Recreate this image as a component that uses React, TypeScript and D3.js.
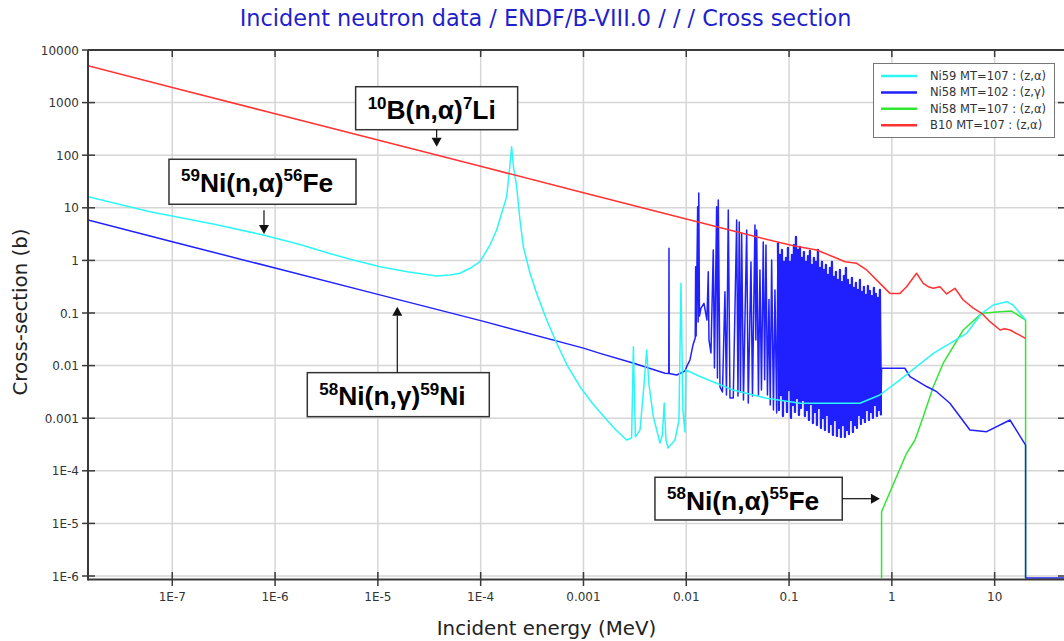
import React from "react";
import * as d3 from "d3";

type Pt = [number, number];

// ---- Data (energy in MeV, cross-section in barns) ----
const b10Alpha: Pt[] = [
  [1.514e-8, 5000], [1e-7, 1940], [1e-6, 614], [1e-5, 194], [1e-4, 61.4], [1e-3, 19.4],
  [0.01, 6.14], [0.05, 2.75], [0.11, 1.9], [0.1856, 1.58], [0.269, 1.17], [0.35, 0.945],
  [0.455, 0.881], [0.569, 0.657], [0.766, 0.366], [0.958, 0.236], [1.2, 0.236], [1.39, 0.316],
  [1.74, 0.569], [2.02, 0.367], [2.26, 0.316], [2.53, 0.295], [2.94, 0.316], [3.41, 0.23],
  [4.11, 0.295], [4.95, 0.177], [6.19, 0.124], [7.48, 0.0986], [9.0, 0.0684], [11.3, 0.0475],
  [12.5, 0.05], [14.1, 0.0475], [20, 0.033],
];

const ni59Alpha: Pt[] = [
  [1.514e-8, 16.3], [6.07e-8, 8.43], [2.5e-7, 4.9], [7.67e-7, 3.05], [1.746e-6, 2.0], [3.2e-6, 1.4],
  [5.4e-6, 1.05], [1.05e-5, 0.76], [2e-5, 0.6], [3.73e-5, 0.505], [5.03e-5, 0.53], [6.29e-5, 0.569],
  [7.87e-5, 0.708], [9.84e-5, 0.944], [1.23e-4, 1.96], [1.43e-4, 3.78], [1.6e-4, 7.85],
  [1.79e-4, 16.3], [1.906e-4, 52.3], [2.0e-4, 145], [2.084e-4, 60.4], [2.24e-4, 25.2],
  [2.41e-4, 5.86], [2.6e-4, 1.82], [3.02e-4, 0.569], [3.5e-4, 0.237], [4.39e-4, 0.0736],
  [5.49e-4, 0.0266], [7.06e-4, 0.00953], [9.25e-4, 0.00397], [1.237e-3, 0.00186],
  [1.69e-3, 0.000925], [2.07e-3, 0.000597], [2.63e-3, 0.000385], [2.94e-3, 0.00042], [3.06e-3, 0.0229],
  [3.2e-3, 0.00044], [3.55e-3, 0.0006], [3.88e-3, 0.00428], [4.12e-3, 0.0198],
  [4.34e-3, 0.00428], [4.78e-3, 0.00107], [5.55e-3, 0.000337], [5.86e-3, 0.00048],
  [6.1e-3, 0.00195], [6.35e-3, 0.000385], [6.64e-3, 0.000271], [7.76e-3, 0.000385],
  [8.49e-3, 0.000925], [8.88e-3, 0.367], [9.28e-3, 0.00143], [9.71e-3, 0.000547],
  [9.93e-3, 0.00824], [0.0136, 0.0062], [0.0285, 0.00344], [0.0605, 0.00239],
  [0.1277, 0.00192], [0.489, 0.00192], [0.764, 0.00276], [1.19, 0.0053], [2.53, 0.0171],
  [5.35, 0.0411], [7.48, 0.0986], [9.69, 0.142], [13.1, 0.164], [15.1, 0.142], [20, 0.0736],
];

const ni58GammaLow: Pt[] = [
  [1.514e-8, 5.85], [1e-7, 2.26], [1e-6, 0.716], [1e-5, 0.226], [1e-4, 0.0716],
  [1e-3, 0.0215], [1.45e-3, 0.0171], [3.03e-3, 0.0112], [6.21e-3, 0.00714],
  [6.76e-3, 0.0071], [6.79e-3, 1.7], [6.82e-3, 0.0071], [8.07e-3, 0.00663],
  [9.71e-3, 0.0079], [0.01009, 0.00953], [0.01086, 0.0128], [0.01162, 0.0246],
  [0.01222, 0.0335], [0.01234, 0.759], [0.01247, 0.0365], [0.01291, 10.5],
  [0.01305, 0.0675], [0.01323, 19.1], [0.01344, 0.0877], [0.0139, 0.124],
  [0.01486, 0.153], [0.01589, 0.0736], [0.01637, 0.61], [0.01663, 0.0307],
  [0.01739, 0.0174], [0.01831, 1.58], [0.0188, 0.009], [0.01975, 10.5],
  [0.02011, 0.0058], [0.02048, 14.1], [0.02128, 0.00392], [0.0225, 0.00315],
  [0.02378, 0.254], [0.0246, 0.00276], [0.02563, 9.08], [0.02663, 0.00242],
];

const ni58GammaMid: Pt[] = [
  [0.02865, 0.00242], [0.03093, 5.86], [0.03184, 0.00264], [0.03278, 5.37], [0.03367, 0.00315],
  [0.03459, 3.32], [0.03601, 0.00222], [0.0387, 3.78], [0.0401, 0.00195], [0.04259, 0.932],
  [0.04405, 0.00264], [0.04658, 4.71], [0.04753, 0.0307], [0.04839, 3.78], [0.05038, 0.00276],
  [0.0521, 0.657], [0.05388, 0.00344], [0.0561, 2.24], [0.05788, 0.00537], [0.0596, 1.96],
  [0.06164, 0.00276], [0.06374, 0.18], [0.06562, 0.00178], [0.06771, 1.02], [0.07049, 0.00143],
  [0.0729, 0.274], [0.07573, 0.00126],
];

const ni58GammaDense: Pt[] = [
  [0.078, 2.14], [0.0797, 0.00143], [0.0816, 1.27], [0.0834, 0.00276], [0.0853, 1.58],
  [0.0872, 0.0011], [0.0892, 0.932], [0.0912, 0.00222], [0.0933, 1.11], [0.0954, 0.00131],
  [0.0975, 1.72], [0.0997, 0.00344], [0.102, 0.932], [0.1043, 0.00101], [0.1067, 1.27],
  [0.1091, 0.00178], [0.1116, 1.96], [0.1141, 0.00131], [0.1167, 2.79], [0.1193, 0.00242],
  [0.122, 1.58], [0.1248, 0.00115], [0.1276, 1.8], [0.1305, 0.00156], [0.1335, 1.11],
  [0.1365, 0.00222], [0.1396, 1.44], [0.1427, 0.0011], [0.146, 0.932], [0.1493, 0.00143],
  [0.1527, 1.21], [0.1561, 0.000925], [0.1596, 1.51], [0.1633, 0.00186], [0.167, 0.818],
  [0.1707, 0.000811], [0.1746, 1.11], [0.1786, 0.00131], [0.1826, 0.932], [0.1867, 0.000743],
  [0.191, 1.58], [0.1953, 0.00156], [0.1997, 0.717], [0.2042, 0.000652], [0.2089, 0.932],
  [0.2136, 0.00101], [0.2184, 0.657], [0.2234, 0.000597], [0.2284, 0.818], [0.2336, 0.00115],
  [0.2389, 0.528], [0.2443, 0.000547], [0.2498, 0.717], [0.2555, 0.000776], [0.2613, 0.932],
  [0.2672, 0.00048], [0.2732, 0.484], [0.2794, 0.000925], [0.2857, 0.602], [0.2922, 0.000459],
  [0.2988, 0.424], [0.3056, 0.000652], [0.3125, 0.657], [0.3196, 0.00044], [0.3268, 0.388],
  [0.3342, 0.000743], [0.3418, 0.505], [0.3495, 0.00044], [0.3574, 0.717], [0.3655, 0.000597],
  [0.3738, 0.424], [0.3823, 0.000501], [0.3909, 0.34], [0.3998, 0.000925], [0.4088, 0.463],
  [0.4181, 0.000547], [0.4276, 0.299], [0.4372, 0.000743], [0.4471, 0.372], [0.4573, 0.000652],
  [0.4676, 0.274], [0.4782, 0.00115], [0.489, 0.424], [0.5001, 0.000776], [0.5114, 0.251],
  [0.523, 0.00101], [0.5348, 0.312], [0.5469, 0.000847], [0.5593, 0.22], [0.572, 0.00143],
  [0.5849, 0.326], [0.5982, 0.000925], [0.6117, 0.262], [0.6256, 0.00131], [0.6397, 0.21],
  [0.6542, 0.00101], [0.669, 0.299], [0.6842, 0.00178], [0.6997, 0.23], [0.7155, 0.0011],
  [0.7317, 0.193], [0.7483, 0.00143], [0.7652, 0.274], [0.7825, 0.00115],
];

const ni58GammaHigh: Pt[] = [
  [0.794, 0.0089], [1.34, 0.0089], [1.5, 0.0062], [2.18, 0.004], [2.73, 0.00319],
  [3.67, 0.00192], [5.75, 0.000597], [8.36, 0.000554], [14.1, 0.000925], [20, 0.000309],
  [20, 0], [200, 0],
];

const ni58Alpha: Pt[] = [
  [0.794, 0], [0.794, 1.67e-5], [1.39, 2.15e-4], [1.68, 3.85e-4], [2.02, 0.00107],
  [2.53, 0.00397], [3.16, 0.0111], [4.95, 0.0475], [7.48, 0.0986], [11.3, 0.106],
  [14.6, 0.109], [20, 0.0736], [20, 0],
];

const xTickValues = [1e-7, 1e-6, 1e-5, 1e-4, 1e-3, 1e-2, 1e-1, 1, 10];
const xTickLabels = ["1E-7", "1E-6", "1E-5", "1E-4", "0.001", "0.01", "0.1", "1", "10"];
const yTickValues = [1e-6, 1e-5, 1e-4, 1e-3, 1e-2, 1e-1, 1, 10, 100, 1000, 10000];
const yTickLabels = ["1E-6", "1E-5", "1E-4", "0.001", "0.01", "0.1", "1", "10", "100", "1000", "10000"];

const legendLabels = [
  "Ni59 MT=107 : (z,\u03b1)",
  "Ni58 MT=102 : (z,\u03b3)",
  "Ni58 MT=107 : (z,\u03b1)",
  "B10 MT=107 : (z,\u03b1)",
];
const COLORS = { cyan: "#2cf6f6", blue: "#2020ff", green: "#33e633", red: "#ff3333" };
const legendColors = [COLORS.cyan, COLORS.blue, COLORS.green, COLORS.red];

type Part = [string, boolean];
const annotations: { parts: Part[]; target: Pt; box: number[]; dir: string; gap: number }[] = [
  { parts: [["10", true], ["B(n,\u03b1)", false], ["7", true], ["Li", false]], target: [3.73e-5, 145], box: [-81, -60, 162, 43], dir: "down", gap: 0 },
  { parts: [["59", true], ["Ni(n,\u03b1)", false], ["56", true], ["Fe", false]], target: [7.8e-7, 3.18], box: [-95, -74.7, 187, 45], dir: "down", gap: 6 },
  { parts: [["58", true], ["Ni(n,\u03b3)", false], ["59", true], ["Ni", false]], target: [1.545e-5, 0.132], box: [-90, 66, 182, 44], dir: "up", gap: 0 },
  { parts: [["58", true], ["Ni(n,\u03b1)", false], ["55", true], ["Fe", false]], target: [0.766, 2.95e-5], box: [-225, -21.4, 187.3, 42.7], dir: "right", gap: 0 },
];

const X0 = 88, X1 = 1061, Y0 = 50, Y1 = 579;
const FONT = "'DejaVu Sans', Verdana, sans-serif";

export default function App() {
  const x = d3.scaleLog().domain([1.514e-8, 44.2]).range([X0, X1]);
  const y = d3.scaleLog().domain([8.77e-7, 1e4]).range([Y1, Y0]);
  const yv = (v: number) => (v > 0 ? y(v) : Y1 - 1);
  const line = d3.line<Pt>().x((d) => x(d[0])).y((d) => yv(d[1]));
  const ni58Gamma = [...ni58GammaLow, ...ni58GammaMid, ...ni58GammaDense, ...ni58GammaHigh];

  const series = [
    { data: ni58Alpha, color: COLORS.green, w: 1.5 },
    { data: ni58Gamma, color: COLORS.blue, w: 1.5 },
    { data: ni58GammaDense, color: COLORS.blue, w: 2.3 },
    { data: ni59Alpha, color: COLORS.cyan, w: 1.5 },
    { data: b10Alpha, color: COLORS.red, w: 1.5 },
  ];

  return (
    <svg width={1064} height={641} style={{ position: "absolute", left: 0, top: 0, background: "#fff" }}>
      <defs>
        <clipPath id="plotclip">
          <rect x={X0} y={Y0} width={1064 - X0} height={Y1 - Y0} />
        </clipPath>
      </defs>
      <rect x={0} y={0} width={1064} height={641} fill="#fff" />
      {/* title */}
      <text x={545.5} y={26} textAnchor="middle" fontFamily={FONT} fontSize={22.4} fill="#1f1fcc">
        Incident neutron data / ENDF/B-VIII.0 / / / Cross section
      </text>
      {/* grid */}
      <g stroke="#d6d6d6" strokeWidth={1.5}>
        {yTickValues.map((v, i) => (
          <line key={"gy" + i} x1={X0} x2={1061} y1={y(v)} y2={y(v)} />
        ))}
        {xTickValues.map((v, i) => (
          <line key={"gx" + i} x1={x(v)} x2={x(v)} y1={Y0} y2={Y1} />
        ))}
      </g>
      {/* series */}
      <g clipPath="url(#plotclip)" fill="none" strokeLinejoin="round">
        {series.map((s, i) => (
          <path key={i} d={line(s.data) || ""} stroke={s.color} strokeWidth={s.w} />
        ))}
      </g>
      {/* axes */}
      <g stroke="#3a3a3a" strokeWidth={2}>
        <line x1={X0} x2={1064} y1={Y1 + 0.5} y2={Y1 + 0.5} />
        <line x1={X0} x2={1064} y1={Y0} y2={Y0} />
        <line x1={X0} x2={X0} y1={Y0} y2={Y1 + 1.5} />
      </g>
      <g stroke="#3a3a3a" strokeWidth={1.5}>
        {yTickValues.map((v, i) => (
          <line key={"ty" + i} x1={82} x2={95} y1={y(v)} y2={y(v)} />
        ))}
        {yTickValues.map((v, i) => (
          <line key={"tyr" + i} x1={1058} x2={1064} y1={y(v)} y2={y(v)} />
        ))}
        {xTickValues.map((v, i) => (
          <line key={"tx" + i} x1={x(v)} x2={x(v)} y1={572} y2={586} />
        ))}
        {xTickValues.map((v, i) => (
          <line key={"txt" + i} x1={x(v)} x2={x(v)} y1={Y0} y2={Y0 + 7} />
        ))}
      </g>
      <g fontFamily={FONT} fontSize={12} fill="#333">
        {yTickValues.map((v, i) => (
          <text key={"ly" + i} x={79} y={y(v) + 4.5} textAnchor="end">
            {yTickLabels[i]}
          </text>
        ))}
        {xTickValues.map((v, i) => (
          <text key={"lx" + i} x={x(v)} y={600.5} textAnchor="middle">
            {xTickLabels[i]}
          </text>
        ))}
      </g>
      <text x={546.5} y={635} textAnchor="middle" fontFamily={FONT} fontSize={19.8} fill="#222">
        Incident energy (MeV)
      </text>
      <text
        transform={`translate(26.5, 312) rotate(-90)`}
        textAnchor="middle"
        fontFamily={FONT}
        fontSize={19.8}
        fill="#222"
      >
        Cross-section (b)
      </text>
      {/* legend */}
      <g>
        <rect x={873.5} y={63.5} width={181} height={74} fill="#fff" stroke="#777" strokeWidth={1} />
        {legendLabels.map((l, i) => (
          <g key={"lg" + i}>
            <line x1={881} x2={917} y1={76 + i * 16.4} y2={76 + i * 16.4} stroke={legendColors[i]} strokeWidth={2.5} />
            <text x={930} y={80 + i * 16.4} fontFamily={FONT} fontSize={11.5} fill="#333">
              {l}
            </text>
          </g>
        ))}
      </g>
      {/* annotations */}
      {annotations.map((a, i) => {
        const tx = x(a.target[0]);
        const ty = yv(a.target[1]);
        const bx = tx + a.box[0];
        const by = ty + a.box[1];
        const bw = a.box[2];
        const bh = a.box[3];
        let arrowLine: number[] = [];
        let head = "";
        if (a.dir === "down") {
          arrowLine = [tx, by + bh + a.gap, tx, ty - 9];
          head = `${tx - 5},${ty - 9} ${tx + 5},${ty - 9} ${tx},${ty}`;
        } else if (a.dir === "up") {
          arrowLine = [tx, by, tx, ty + 9];
          head = `${tx - 5},${ty + 9} ${tx + 5},${ty + 9} ${tx},${ty}`;
        } else {
          arrowLine = [bx + bw, ty, tx - 9, ty];
          head = `${tx - 9},${ty - 5} ${tx - 9},${ty + 5} ${tx},${ty}`;
        }
        return (
          <g key={"an" + i}>
            <rect x={bx} y={by} width={bw} height={bh} fill="#fff" stroke="#333" strokeWidth={1.5} />
            <line x1={arrowLine[0]} y1={arrowLine[1]} x2={arrowLine[2]} y2={arrowLine[3]} stroke="#111" strokeWidth={1.2} />
            <polygon points={head} fill="#111" />
            <text
              x={bx + 12}
              y={by + 32.5}
              fontFamily="'Liberation Sans', Arial, sans-serif"
              fontWeight="bold"
              fontSize={26.4}
              fill="#000"
            >
              {a.parts.map((p, j) => (
                <tspan key={j} fontSize={p[1] ? 17 : 26.4} dy={j === 0 ? (p[1] ? -10.5 : 0) : p[1] ? -10.5 : 10.5}>
                  {p[0]}
                </tspan>
              ))}
            </text>
          </g>
        );
      })}
    </svg>
  );
}
